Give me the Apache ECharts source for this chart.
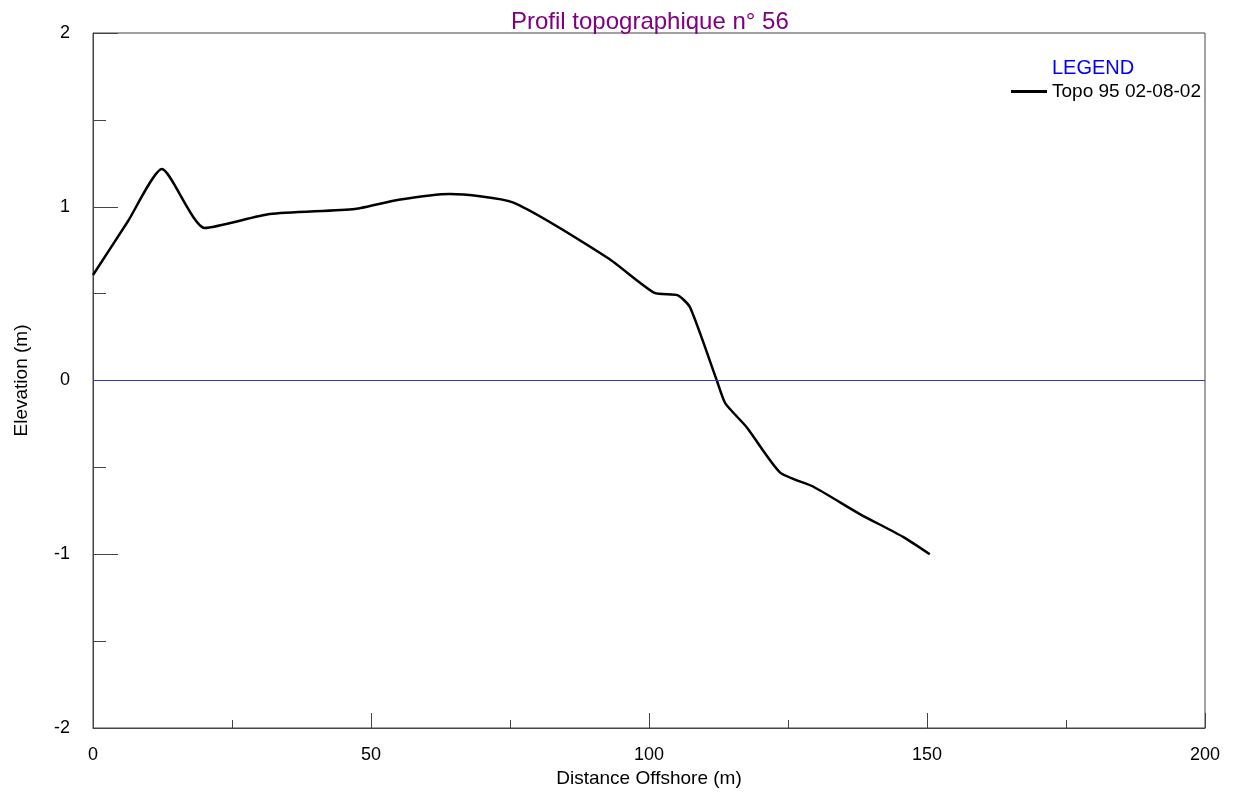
<!DOCTYPE html>
<html>
<head>
<meta charset="utf-8">
<script src="https://cdn.jsdelivr.net/npm/echarts@6/dist/echarts.min.js"></script>
<style>html,body{margin:0;padding:0;background:#fff}#c{width:1234px;height:794px}</style>
</head>
<body>
<div id="c"></div>
<script>
const seriesName = 'Topo 95 02-08-02';
const distance = [0, 6.2, 12.4, 20.1, 31.8, 47.1, 55, 64.2, 75.5, 92.6, 101, 105.2, 107.4, 112.2, 113.7, 117.6, 123.6, 129.5, 138, 145.7, 150.5];
const elevation = [0.607, 0.912, 1.217, 0.878, 0.958, 0.987, 1.04, 1.073, 1.025, 0.705, 0.504, 0.49, 0.42, 0.0, -0.13, -0.27, -0.53, -0.61, -0.77, -0.90, -1.0];
const xTicks = [0, 50, 100, 150, 200];
const yTicks = [-2, -1, 0, 1, 2];

const font = 'Liberation Sans, Arial, sans-serif';
const chart = echarts.init(document.getElementById('c'));
chart.setOption({
  animation: false,
  backgroundColor: '#fff',
  title: [
    { text: 'Profil topographique n° 56', left: 506, top: 5, textStyle: { color: '#800080', fontFamily: font, fontSize: 24, fontWeight: 'normal' } },
    { text: 'LEGEND', left: 1047, top: 53, textStyle: { color: '#0000ff', fontFamily: font, fontSize: 20, fontWeight: 'normal' } }
  ],
  legend: {
    left: 1006, top: 77,
    data: [{ name: seriesName, icon: 'rect' }],
    itemWidth: 36, itemHeight: 3,
    textStyle: { color: '#000', fontFamily: font, fontSize: 19 }
  },
  grid: { left: 93, right: 29, top: 33, bottom: 66, show: true, borderColor: '#444', borderWidth: 1, backgroundColor: '#fff' },
  xAxis: {
    type: 'value', min: xTicks[0], max: xTicks[xTicks.length - 1], interval: 50,
    name: 'Distance Offshore (m)', nameLocation: 'middle', nameGap: 34,
    nameTextStyle: { color: '#000', fontFamily: font, fontSize: 19 },
    axisLine: { show: true, onZero: false, lineStyle: { color: '#444' } },
    axisTick: { show: true, inside: true, length: 15, lineStyle: { color: '#444' } },
    minorTick: { show: true, splitNumber: 2, length: 8, lineStyle: { color: '#444' } },
    splitLine: { show: false },
    axisLabel: { color: '#000', fontFamily: font, fontSize: 18, margin: 18 }
  },
  yAxis: {
    type: 'value', min: yTicks[0], max: yTicks[yTicks.length - 1], interval: 1,
    name: 'Elevation (m)', nameLocation: 'middle', nameGap: 62,
    nameTextStyle: { color: '#000', fontFamily: font, fontSize: 19 },
    axisLine: { show: true, onZero: false, lineStyle: { color: '#444' } },
    axisTick: { show: true, inside: true, length: 25, lineStyle: { color: '#444' } },
    minorTick: { show: true, splitNumber: 2, length: 13, lineStyle: { color: '#444' } },
    splitLine: { show: false },
    axisLabel: { color: '#000', fontFamily: font, fontSize: 18, margin: 23 }
  },
  series: [{
    name: seriesName, type: 'line', smooth: 0.2, showSymbol: false,
    data: distance.map((d, i) => [d, elevation[i]]),
    lineStyle: { color: '#000', width: 2.5 },
    itemStyle: { color: '#000' },
    markLine: {
      silent: true, symbol: 'none', label: { show: false },
      lineStyle: { color: '#3333cc', width: 1, type: 'solid' },
      data: [{ yAxis: 0 }]
    }
  }]
});
</script>
</body>
</html>
